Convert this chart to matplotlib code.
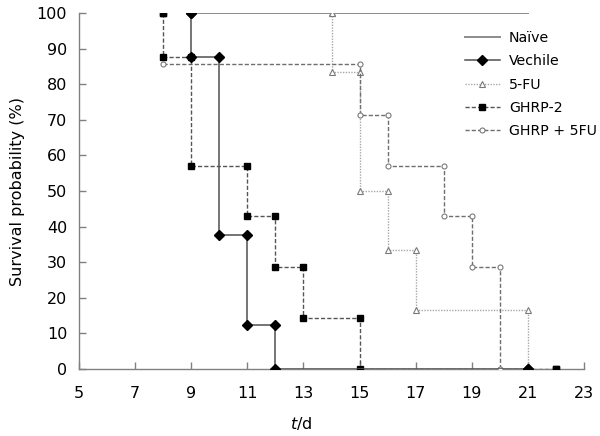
import matplotlib
matplotlib.use("Agg")
import matplotlib.pyplot as plt

# ---- data (event times in days, survival %) ----
naive_t = [9, 21]
naive_s = [100, 100]
vech_t = [9, 9, 10, 11, 12, 21]
vech_s = [100, 87.5, 37.5, 12.5, 0, 0]
fu_t = [14, 14, 15, 16, 17, 21]
fu_s = [100, 83.3, 50, 33.3, 16.7, 0]
ghrp_t = [8, 8, 9, 11, 12, 13, 15, 22]
ghrp_s = [100, 87.5, 57.1, 42.9, 28.6, 14.3, 0, 0]
combo_t = [8, 15, 16, 18, 19, 20]
combo_s = [85.7, 71.4, 57.1, 42.9, 28.6, 0]

labels = ["Naïve", "Vechile", "5-FU", "GHRP-2", "GHRP + 5FU"]
xticks = [5, 7, 9, 11, 13, 15, 17, 19, 21, 23]
yticks = [0, 10, 20, 30, 40, 50, 60, 70, 80, 90, 100]


def km(times, surv):
    xs, ys = [times[0]], [surv[0]]
    for i in range(1, len(times)):
        xs += [times[i], times[i]]
        ys += [surv[i - 1], surv[i]]
    return xs, ys


plt.rcParams['font.family'] = ['DejaVu Sans']
fig = plt.figure(figsize=(6.0, 4.36), dpi=100)
ax = fig.add_axes([79 / 600, 1 - 369 / 436, 505 / 600, 356 / 436])

x, y = km(naive_t, naive_s)
h_naive, = ax.plot(x, y, color='#8c8c8c', lw=1.4, zorder=2)

x, y = km(fu_t, fu_s)
h_fu, = ax.plot(x, y, color='#a8a8a8', lw=1.0, ls=(0, (1, 1)), marker='^',
                ms=3.8, mfc='white', mec='#7a7a7a', mew=0.8, zorder=3)

x, y = km(combo_t, combo_s)
h_combo, = ax.plot(x, y, color='#6e6e6e', lw=1.0, ls=(0, (3, 1.5)), marker='o',
                   ms=3.6, mfc='white', mec='#7a7a7a', mew=0.8, zorder=3)

x, y = km(ghrp_t, ghrp_s)
h_ghrp, = ax.plot(x, y, color='#555555', lw=1.0, ls=(0, (3, 1.5)), marker='s',
                  ms=4.2, mfc='black', mec='black', zorder=4)

x, y = km(vech_t, vech_s)
h_vech, = ax.plot(x, y, color='#505050', lw=1.1, marker='D',
                  ms=4.6, mfc='black', mec='black', zorder=5)

ax.set_xlim(5, 23)
ax.set_ylim(0, 100)
ax.set_xticks(xticks)
ax.set_yticks(yticks)
ax.tick_params(axis='both', direction='in', colors='#808080', labelcolor='black',
               labelsize=11.5, width=1.0)
ax.tick_params(axis='x', length=5, pad=12)
ax.tick_params(axis='y', length=5, pad=8.5)
for s in ['top', 'right']:
    ax.spines[s].set_visible(False)
for s in ['left', 'bottom']:
    ax.spines[s].set_color('#808080')
    ax.spines[s].set_linewidth(1.0)
ax.patch.set_visible(False)

fig.text(301 / 600, 1 - 423 / 436, r'$\mathit{t}$/d', ha='center', va='center', fontsize=11.5)
fig.text(18 / 600, 1 - 191 / 436, 'Survival probability (%)', rotation=90,
         ha='center', va='center', fontsize=11.5)

leg = ax.legend([h_naive, h_vech, h_fu, h_ghrp, h_combo], labels,
                loc='upper left', bbox_to_anchor=(465 / 600, 1 - 31 / 436),
                bbox_transform=fig.transFigure, frameon=False, fontsize=10.2,
                handlelength=2.45, handletextpad=0.65, labelspacing=0.66,
                borderpad=0, borderaxespad=0, markerscale=1.0)

fig.savefig('out.png', dpi=100)
